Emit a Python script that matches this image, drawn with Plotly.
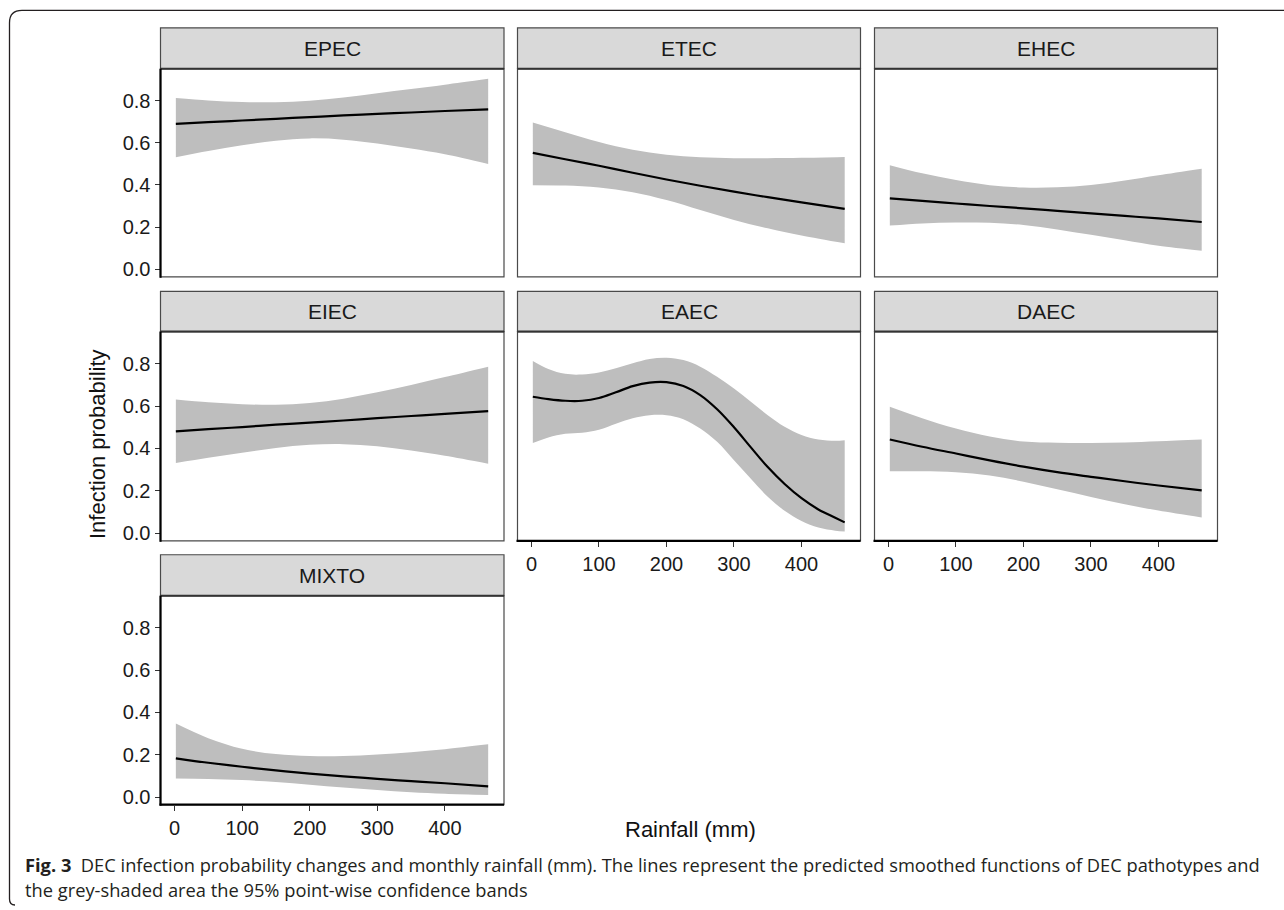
import plotly.graph_objects as go

# ---------------- data ----------------
PANEL_NAMES = ["EPEC", "ETEC", "EHEC", "EIEC", "EAEC", "DAEC", "MIXTO"]

X_GRID = [2, 50, 100, 150, 200, 250, 300, 350, 400, 464]
X_EAEC = [2, 25, 50, 75, 100, 125, 150, 175, 200, 225, 250, 275, 300, 325, 350, 375, 400, 425, 450, 464]

EPEC_FIT = [0.690, 0.698, 0.706, 0.714, 0.722, 0.730, 0.737, 0.744, 0.751, 0.759]
EPEC_UPPER = [0.813, 0.801, 0.794, 0.793, 0.800, 0.815, 0.835, 0.855, 0.876, 0.904]
EPEC_LOWER = [0.532, 0.561, 0.588, 0.610, 0.621, 0.615, 0.597, 0.573, 0.546, 0.500]

ETEC_FIT = [0.552, 0.522, 0.491, 0.458, 0.426, 0.396, 0.368, 0.342, 0.317, 0.286]
ETEC_UPPER = [0.696, 0.650, 0.604, 0.567, 0.543, 0.531, 0.527, 0.527, 0.529, 0.533]
ETEC_LOWER = [0.399, 0.397, 0.388, 0.365, 0.328, 0.281, 0.234, 0.194, 0.160, 0.123]

EHEC_FIT = [0.336, 0.324, 0.312, 0.300, 0.289, 0.277, 0.265, 0.253, 0.241, 0.224]
EHEC_UPPER = [0.494, 0.455, 0.423, 0.399, 0.388, 0.389, 0.400, 0.421, 0.446, 0.477]
EHEC_LOWER = [0.207, 0.217, 0.222, 0.220, 0.210, 0.189, 0.163, 0.137, 0.111, 0.087]

EIEC_FIT = [0.481, 0.491, 0.501, 0.512, 0.522, 0.532, 0.543, 0.553, 0.563, 0.576]
EIEC_UPPER = [0.631, 0.618, 0.609, 0.606, 0.615, 0.635, 0.665, 0.700, 0.737, 0.786]
EIEC_LOWER = [0.331, 0.356, 0.380, 0.402, 0.417, 0.420, 0.410, 0.390, 0.365, 0.328]

EAEC_FIT = [0.644, 0.633, 0.625, 0.625, 0.638, 0.665, 0.694, 0.711, 0.713, 0.695,
            0.652, 0.585, 0.500, 0.405, 0.312, 0.232, 0.165, 0.112, 0.073, 0.051]
EAEC_UPPER = [0.813, 0.775, 0.752, 0.749, 0.759, 0.778, 0.802, 0.822, 0.828, 0.817,
              0.786, 0.738, 0.683, 0.620, 0.557, 0.502, 0.463, 0.442, 0.436, 0.439]
EAEC_LOWER = [0.426, 0.452, 0.469, 0.474, 0.488, 0.517, 0.543, 0.557, 0.557, 0.538,
              0.494, 0.431, 0.344, 0.257, 0.172, 0.106, 0.058, 0.027, 0.012, 0.008]

DAEC_FIT = [0.442, 0.408, 0.376, 0.344, 0.314, 0.288, 0.266, 0.245, 0.225, 0.202]
DAEC_UPPER = [0.597, 0.543, 0.494, 0.456, 0.433, 0.427, 0.426, 0.428, 0.434, 0.442]
DAEC_LOWER = [0.292, 0.292, 0.288, 0.272, 0.243, 0.207, 0.171, 0.137, 0.107, 0.074]

MIXTO_FIT = [0.183, 0.162, 0.143, 0.126, 0.111, 0.098, 0.086, 0.075, 0.065, 0.050]
MIXTO_UPPER = [0.347, 0.278, 0.228, 0.203, 0.194, 0.194, 0.201, 0.212, 0.226, 0.249]
MIXTO_LOWER = [0.087, 0.085, 0.080, 0.071, 0.058, 0.045, 0.033, 0.023, 0.016, 0.010]

X_TICKS = [0, 100, 200, 300, 400]
X_TICK_LABELS = ["0", "100", "200", "300", "400"]
Y_TICKS = [0.0, 0.2, 0.4, 0.6, 0.8]
Y_TICK_LABELS = ["0.0", "0.2", "0.4", "0.6", "0.8"]

X_TITLE = "Rainfall (mm)"
Y_TITLE = "Infection probability"
CAPTION_BOLD = "Fig. 3"
CAPTION_LINE1 = ("DEC infection probability changes and monthly rainfall (mm). The lines represent "
                 "the predicted smoothed functions of DEC pathotypes and")
CAPTION_LINE2 = "the grey-shaded area the 95% point-wise confidence bands"

SERIES = {
    "EPEC": (X_GRID, EPEC_FIT, EPEC_UPPER, EPEC_LOWER),
    "ETEC": (X_GRID, ETEC_FIT, ETEC_UPPER, ETEC_LOWER),
    "EHEC": (X_GRID, EHEC_FIT, EHEC_UPPER, EHEC_LOWER),
    "EIEC": (X_GRID, EIEC_FIT, EIEC_UPPER, EIEC_LOWER),
    "EAEC": (X_EAEC, EAEC_FIT, EAEC_UPPER, EAEC_LOWER),
    "DAEC": (X_GRID, DAEC_FIT, DAEC_UPPER, DAEC_LOWER),
    "MIXTO": (X_GRID, MIXTO_FIT, MIXTO_UPPER, MIXTO_LOWER),
}

# ---------------- layout geometry (pixels) ----------------
W, H = 1284, 910
COL_L = [160.5, 517.5, 874.5]
COL_R = [504.0, 860.5, 1217.5]
STRIP_T = [28.0, 292.3, 556.6]
ROW_T = [69.0, 332.7, 597.7]
ROW_B = [277.7, 542.6, 807.3]
X_RANGE = [-20.7, 487.4]
Y_RANGE = [-0.036, 0.9515]

FONT = "Liberation Sans, Arial, sans-serif"
BORDER = "#4a4a4a"
BAND = "#bebebe"


def fx(p):
    return p / W


def fy(p):
    return 1 - p / H


POS = {  # panel -> (row, col)
    "EPEC": (0, 0), "ETEC": (0, 1), "EHEC": (0, 2),
    "EIEC": (1, 0), "EAEC": (1, 1), "DAEC": (1, 2),
    "MIXTO": (2, 0),
}
HAS_X = {"EAEC", "DAEC", "MIXTO"}
HAS_Y = {"EPEC", "EIEC", "MIXTO"}

fig = go.Figure()
shapes = []
annotations = []
layout_axes = {}

for i, name in enumerate(PANEL_NAMES, start=1):
    r, c = POS[name]
    xs, fit, up, lo = SERIES[name]
    xa = "x" if i == 1 else f"x{i}"
    ya = "y" if i == 1 else f"y{i}"
    fig.add_trace(go.Scatter(x=xs, y=up, xaxis=xa, yaxis=ya, mode="lines",
                             line=dict(width=0, shape="spline", smoothing=1.0, color=BAND),
                             hoverinfo="skip", showlegend=False))
    fig.add_trace(go.Scatter(x=xs, y=lo, xaxis=xa, yaxis=ya, mode="lines",
                             line=dict(width=0, shape="spline", smoothing=1.0, color=BAND),
                             fill="tonexty", fillcolor=BAND,
                             hoverinfo="skip", showlegend=False))
    fig.add_trace(go.Scatter(x=xs, y=fit, xaxis=xa, yaxis=ya, mode="lines",
                             line=dict(width=2.2, shape="spline", smoothing=1.0, color="black"),
                             showlegend=False))

    xkey = "xaxis" if i == 1 else f"xaxis{i}"
    ykey = "yaxis" if i == 1 else f"yaxis{i}"
    layout_axes[xkey] = dict(
        domain=[fx(COL_L[c]), fx(COL_R[c])], anchor=ya, range=X_RANGE,
        showgrid=False, zeroline=False, showline=False,
        tickvals=X_TICKS, ticktext=X_TICK_LABELS,
        ticks="outside" if name in HAS_X else "", ticklen=5, tickwidth=1.2, tickcolor="#333333",
        showticklabels=name in HAS_X,
        tickfont=dict(family=FONT, size=20, color="#1a1a1a"),
    )
    layout_axes[ykey] = dict(
        domain=[fy(ROW_B[r]), fy(ROW_T[r])], anchor=xa, range=Y_RANGE,
        showgrid=False, zeroline=False, showline=False,
        tickvals=Y_TICKS, ticktext=Y_TICK_LABELS,
        ticks="outside" if name in HAS_Y else "", ticklen=5, tickwidth=1.2, tickcolor="#333333",
        showticklabels=name in HAS_Y,
        tickfont=dict(family=FONT, size=20, color="#1a1a1a"),
    )

    # panel border
    shapes.append(dict(type="rect", xref="paper", yref="paper",
                       x0=fx(COL_L[c]), x1=fx(COL_R[c]), y0=fy(ROW_B[r]), y1=fy(ROW_T[r]),
                       line=dict(color=BORDER, width=1.2), fillcolor="rgba(0,0,0,0)"))
    # strip
    shapes.append(dict(type="rect", xref="paper", yref="paper",
                       x0=fx(COL_L[c]), x1=fx(COL_R[c]), y0=fy(ROW_T[r]), y1=fy(STRIP_T[r]),
                       line=dict(color=BORDER, width=1.2), fillcolor="#d9d9d9"))
    shapes.append(dict(type="line", xref="paper", yref="paper",
                       x0=fx(COL_L[c]), x1=fx(COL_R[c]), y0=fy(ROW_T[r]), y1=fy(ROW_T[r]),
                       line=dict(color="#333333", width=2)))
    annotations.append(dict(text=name, xref="paper", yref="paper",
                            x=fx((COL_L[c] + COL_R[c]) / 2), y=fy((STRIP_T[r] + ROW_T[r]) / 2),
                            showarrow=False, xanchor="center", yanchor="middle",
                            font=dict(family=FONT, size=21, color="#1a1a1a")))
    # thick axis lines
    if name in HAS_Y:
        shapes.append(dict(type="line", xref="paper", yref="paper",
                           x0=fx(COL_L[c]), x1=fx(COL_L[c]), y0=fy(ROW_B[r] + 1), y1=fy(ROW_T[r]),
                           line=dict(color="black", width=2.2)))
    if name in HAS_X:
        shapes.append(dict(type="line", xref="paper", yref="paper",
                           x0=fx(COL_L[c] - 1), x1=fx(COL_R[c]), y0=fy(ROW_B[r]), y1=fy(ROW_B[r]),
                           line=dict(color="black", width=2.2)))

# axis titles
annotations.append(dict(text=X_TITLE, xref="paper", yref="paper", x=fx(690), y=fy(832),
                        showarrow=False, xanchor="center", yanchor="middle",
                        font=dict(family=FONT, size=22, color="#111111")))
annotations.append(dict(text=Y_TITLE, xref="paper", yref="paper", x=fx(97.5), y=fy(446),
                        showarrow=False, xanchor="center", yanchor="middle", textangle=-90,
                        font=dict(family=FONT, size=22, color="#111111")))

# caption
CAP_FONT = "Open Sans, Noto Sans, sans-serif"
annotations.append(dict(text=f"<b>{CAPTION_BOLD}</b>\u00a0\u00a0{CAPTION_LINE1}",
                        xref="paper", yref="paper", x=fx(23), y=fy(867),
                        showarrow=False, xanchor="left", yanchor="middle",
                        font=dict(family=CAP_FONT, size=18.3, color="#231f20")))
annotations.append(dict(text=CAPTION_LINE2,
                        xref="paper", yref="paper", x=fx(23), y=fy(892),
                        showarrow=False, xanchor="left", yanchor="middle",
                        font=dict(family=CAP_FONT, size=18.3, color="#231f20")))

# outer frame with rounded corner
frame_path = (f"M {fx(1290)},{fy(10.5)} L {fx(22)},{fy(10.5)} "
              f"Q {fx(9.5)},{fy(10.5)} {fx(9.5)},{fy(23)} "
              f"L {fx(9.5)},{fy(902)} Q {fx(9.5)},{fy(908)} {fx(15)},{fy(908)}")
shapes.append(dict(type="path", xref="paper", yref="paper", path=frame_path,
                   line=dict(color="#231f20", width=1.3)))

fig.update_layout(
    width=W, height=H,
    margin=dict(l=0, r=0, t=0, b=0),
    paper_bgcolor="white", plot_bgcolor="white",
    showlegend=False,
    shapes=shapes,
    annotations=annotations,
    **layout_axes,
)

fig.write_html("out.html", config={"displayModeBar": False},
               post_script="document.body.style.margin='0';document.body.style.overflow='hidden';")
